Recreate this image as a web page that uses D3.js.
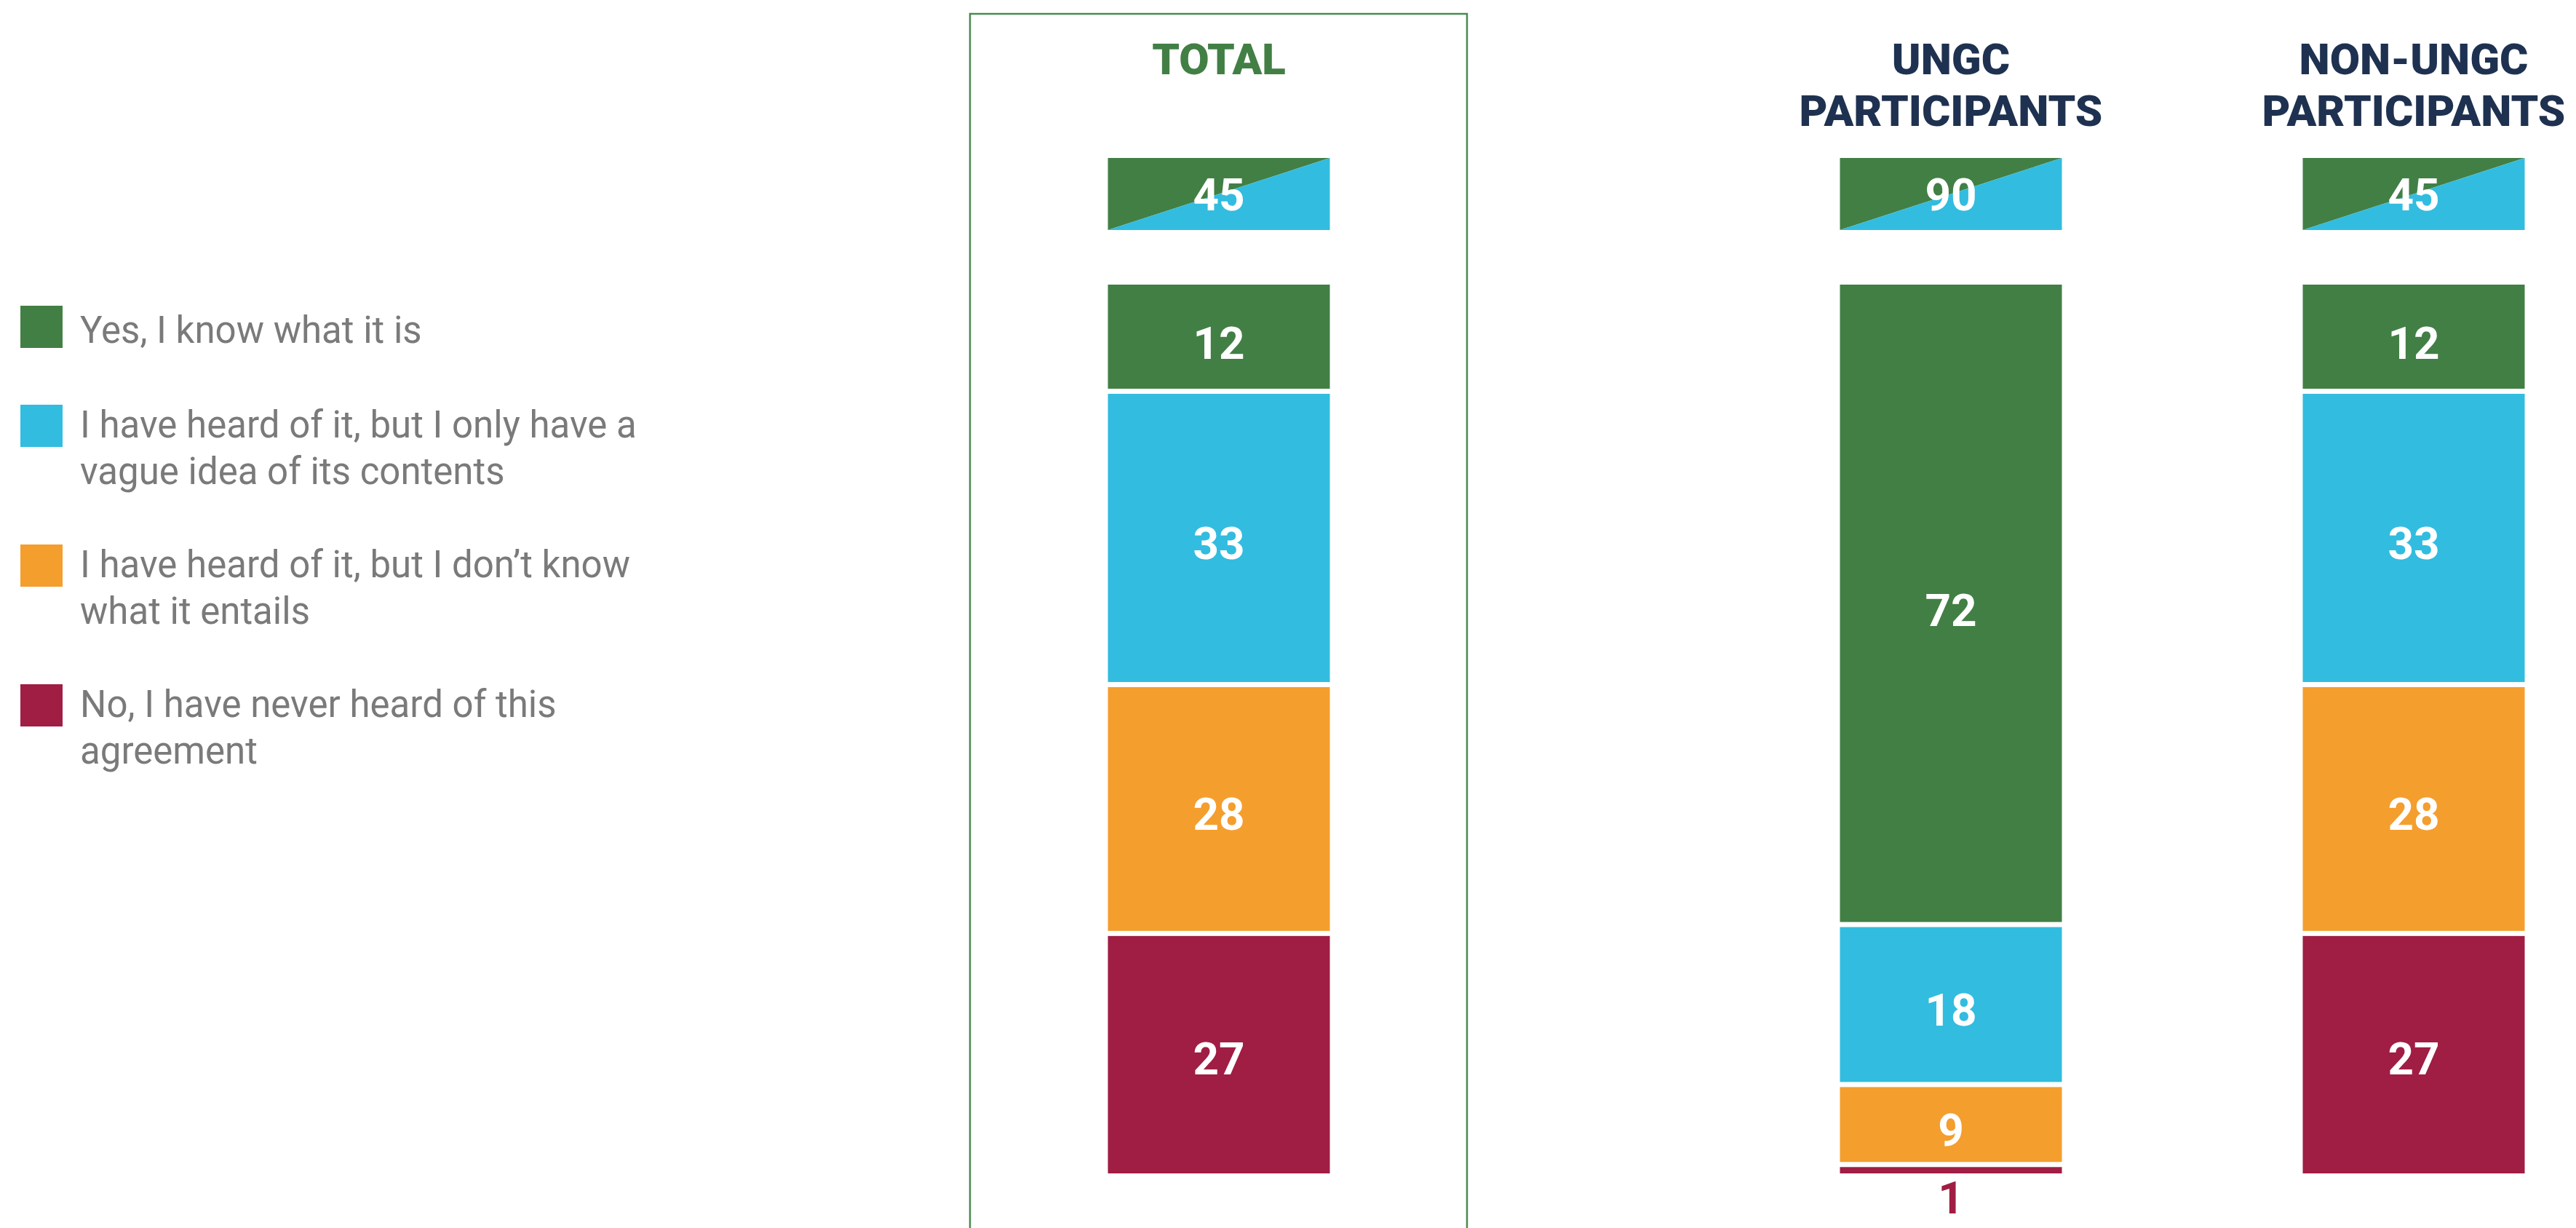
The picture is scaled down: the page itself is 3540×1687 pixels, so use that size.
<!DOCTYPE html>
<html>
<head>
<meta charset="utf-8">
<script src="https://cdn.jsdelivr.net/npm/d3@7"></script>
<style>
  html, body { margin: 0; padding: 0; background: #fff; }
  svg { display: block; }
</style>
</head>
<body>
<svg id="chart"></svg>
<script>
// data
const groups = ["TOTAL", "UNGC PARTICIPANTS", "NON-UNGC PARTICIPANTS"];
const headerLines = [["TOTAL"], ["UNGC", "PARTICIPANTS"], ["NON-UNGC", "PARTICIPANTS"]];
const categories = [
  "Yes, I know what it is",
  "I have heard of it, but I only have a vague idea of its contents",
  "I have heard of it, but I don\u2019t know what it entails",
  "No, I have never heard of this agreement"
];
const legendLines = [
  ["Yes, I know what it is"],
  ["I have heard of it, but I only have a", "vague idea of its contents"],
  ["I have heard of it, but I don\u2019t know", "what it entails"],
  ["No, I have never heard of this", "agreement"]
];
const yesValues = [12, 72, 12];
const vagueValues = [33, 18, 33];
const entailValues = [28, 9, 28];
const neverValues = [27, 1, 27];
const colors = ["#427f45", "#32bce0", "#f49e2e", "#a01d44"];

const W = 3540, H = 1687;
const svg = d3.select("#chart").attr("width", W).attr("height", H);

const series = [yesValues, vagueValues, entailValues, neverValues];
const rows = groups.map((g, i) => {
  const r = { group: g };
  categories.forEach((c, k) => r[c] = series[k][i]);
  return r;
});
const stack = d3.stack().keys(categories)(rows);

// scales
const x = d3.scaleOrdinal().domain(groups).range([1675, 2681, 3317]);
const barW = 305;
const y = d3.scaleLinear().domain([0, 100]).range([391, 1612]);
const color = d3.scaleOrdinal().domain(categories).range(colors);
const gap = 7;

// TOTAL frame
svg.append("rect")
  .attr("x", 1333).attr("y", 19)
  .attr("width", 683).attr("height", H + 20)
  .attr("fill", "none")
  .attr("stroke", "#4a8a4e")
  .attr("stroke-width", 2.5);

// headers
const head = svg.selectAll(".head")
  .data(groups)
  .join("text")
  .attr("class", "head")
  .attr("x", d => x(d))
  .attr("y", 102)
  .attr("text-anchor", "middle")
  .attr("font-family", "Roboto, 'Liberation Sans', sans-serif")
  .attr("font-weight", 900)
  .attr("font-size", 60)
  .attr("fill", (d, i) => i === 0 ? "#427f45" : "#1f3150");
head.selectAll("tspan")
  .data((d, i) => headerLines[i])
  .join("tspan")
  .attr("x", function () { return x(d3.select(this.parentNode).datum()); })
  .attr("dy", (d, i) => i === 0 ? 0 : 71)
  .text(d => d);

// top awareness box (yes + vague), split diagonally
const topY0 = 217, topY1 = 316;
const tops = svg.selectAll(".topbox")
  .data(groups)
  .join("g")
  .attr("class", "topbox")
  .attr("transform", d => `translate(${x(d) - barW / 2},0)`);
tops.append("path")
  .attr("d", `M0,${topY0}H${barW}L0,${topY1}Z`)
  .attr("fill", colors[0]);
tops.append("path")
  .attr("d", `M${barW},${topY0}V${topY1}H0Z`)
  .attr("fill", colors[1]);
tops.append("text")
  .attr("x", barW / 2)
  .attr("y", (topY0 + topY1) / 2 + 22)
  .attr("text-anchor", "middle")
  .attr("font-family", "Roboto, 'Liberation Sans', sans-serif")
  .attr("font-weight", 700)
  .attr("font-size", 62)
  .attr("fill", "#fff")
  .text((d, i) => yesValues[i] + vagueValues[i]);

// stacked bars
const layer = svg.selectAll(".layer")
  .data(stack)
  .join("g")
  .attr("class", "layer")
  .attr("fill", d => color(d.key));

layer.selectAll("rect")
  .data(d => d.map(s => ({ s, k: d.index })))
  .join("rect")
  .attr("x", d => x(d.s.data.group) - barW / 2)
  .attr("width", barW)
  .attr("y", d => y(d.s[0]) + (d.k > 0 ? gap / 2 : 0))
  .attr("height", d => y(d.s[1]) - y(d.s[0]) - (d.k > 0 ? gap / 2 : 0) - (d.k < categories.length - 1 ? gap / 2 : 0));

layer.selectAll("text")
  .data(d => d.map(s => ({ s, k: d.index, v: s[1] - s[0] })))
  .join("text")
  .attr("x", d => x(d.s.data.group))
  .attr("y", d => {
    const h = y(d.s[1]) - y(d.s[0]);
    if (h < 60) return y(d.s[1]) + 55;
    return (y(d.s[0]) + y(d.s[1])) / 2 + 29;
  })
  .attr("text-anchor", "middle")
  .attr("font-family", "Roboto, 'Liberation Sans', sans-serif")
  .attr("font-weight", 700)
  .attr("font-size", 62)
  .attr("fill", d => (y(d.s[1]) - y(d.s[0]) < 60) ? colors[d.k] : "#fff")
  .text(d => d.v);

// legend
const legendTop = [420, 556, 748, 940];
const legend = svg.selectAll(".legend")
  .data(categories)
  .join("g")
  .attr("class", "legend")
  .attr("transform", (d, i) => `translate(28,${legendTop[i]})`);
legend.append("rect")
  .attr("width", 58).attr("height", 58)
  .attr("fill", d => color(d));
legend.append("text")
  .attr("x", 82)
  .attr("y", (d, i) => legendLines[i].length > 1 ? 45 : 51)
  .attr("font-family", "Roboto, 'Liberation Sans', sans-serif")
  .attr("font-size", 51)
  .attr("fill", "#7a7a7a")
  .selectAll("tspan")
  .data((d, i) => legendLines[i])
  .join("tspan")
  .attr("x", 82)
  .attr("dy", (d, i) => i === 0 ? 0 : 64)
  .text(d => d);
</script>
</body>
</html>
